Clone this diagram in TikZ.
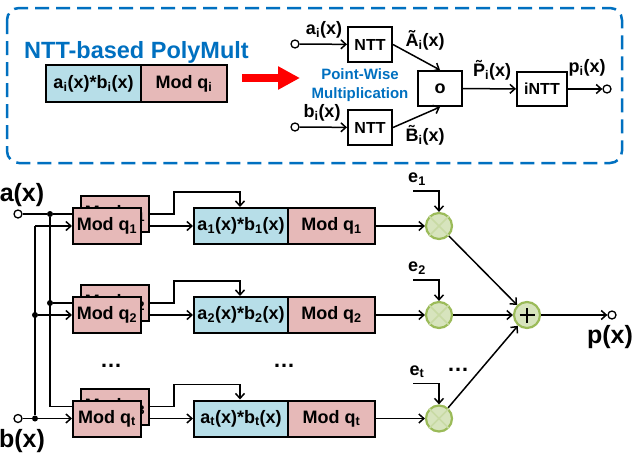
\documentclass[tikz,border=0pt]{standalone}
\usepackage{fontspec}
\setmainfont{Liberation Sans}
\usetikzlibrary{arrows.meta}
\definecolor{bluebox}{RGB}{183,222,232}
\definecolor{pinkbox}{RGB}{230,185,184}
\definecolor{titleblue}{RGB}{0,112,192}
\definecolor{gfill}{RGB}{215,228,189}
\definecolor{gline}{RGB}{155,187,89}
\newcommand\sbs[1]{\textsubscript{#1}}
\newcommand\fs[1]{\fontsize{#1}{#1}\selectfont}
\begin{document}
\begin{tikzpicture}[x=1pt,y=-1pt,
  font=\bfseries\fs{18},
  wire/.style={line width=1.5pt},
  arr/.style={wire,-{Straight Barb[length=5pt,width=9pt]}},
  box/.style={draw,line width=2pt,inner sep=0pt,minimum height=36pt},
  modb/.style={box,fill=pinkbox,minimum width=68pt},
  mulb/.style={box,fill=bluebox,minimum width=94pt},
  redb/.style={box,fill=pinkbox,minimum width=87pt},
  nttbox/.style={box,fill=white,minimum width=44pt,minimum height=35pt,font=\bfseries\fs{16}},
  opend/.style={circle,draw,line width=1.3pt,fill=white,inner sep=0pt,minimum size=8pt},
  dot/.style={circle,fill,inner sep=0pt,minimum size=6pt},
  gcirc/.style={circle,draw=gline,fill=gfill,line width=2.2pt,minimum size=26pt,inner sep=0pt},
  lbl/.style={inner sep=0pt},
  big/.style={lbl,font=\bfseries\fs{25}},
]
\useasboundingbox (0,0) rectangle (634,456);
% ---------- top panel ----------
\draw[titleblue,line width=2.5pt,dash pattern=on 14pt off 7pt,rounded corners=12pt] (7,8) rectangle (622,163);
\node[lbl,titleblue,font=\bfseries\fs{23.5}] (title) at (136.5,52) {NTT-based PolyMult};
\node[mulb,minimum width=95pt,minimum height=37pt] (pm) at (93.5,83.5) {a\sbs{i}(x)*b\sbs{i}(x)};
\node[redb,minimum width=86pt,minimum height=37pt] (pr) at (184,83.5) {Mod q\sbs{i}};
\coordinate (ra1) at (242,78);
\coordinate (ra2) at (300,78);
\draw[red,line width=8pt,-{Triangle[length=22pt,width=22pt]}] (ra1) -- (ra2);

\node[opend] (ina) at (295,44) {};
\node[opend] (inb) at (295,127) {};
\node[nttbox] (ntta) at (370,44.5) {NTT};
\node[nttbox] (nttb) at (370,127.5) {NTT};
\node[lbl] (la) at (324,30) {a\sbs{i}(x)};
\node[lbl] (lb) at (322,113) {b\sbs{i}(x)};
\draw[arr] (ina) -- (ntta);
\draw[arr] (inb) -- (nttb);
\node[nttbox,font=\bfseries\fs{18}] (pw) at (440,88.5) {o};
\draw[arr] (ntta.east) -- (pw.north);
\draw[arr] (nttb.east) -- (pw.south);
\node[lbl] (lA) at (425,40) {\~{A}\sbs{i}(x)};
\node[lbl] (lB) at (425,135) {\~{B}\sbs{i}(x)};
\node[lbl,titleblue,font=\bfseries\fontsize{15}{19}\selectfont,align=center] (pwt) at (360,85.5) {Point-Wise\\Multiplication};
\node[nttbox,minimum width=50pt,minimum height=34pt] (intt) at (542,89) {iNTT};
\draw[arr] (pw) -- (intt);
\node[lbl] (lP) at (492,70) {\~{P}\sbs{i}(x)};
\node[opend] (outp) at (607,89) {};
\draw[arr] (intt) -- (outp);
\node[lbl] (lp) at (587,68) {p\sbs{i}(x)};

% ---------- bottom ----------
\foreach \r/\y/\s/\t in {1/226/1/1, 2/315/2/2, 3/418.5/t/3} {
  \node[modb] (back\r) at (115,\y-12) {Mod q\sbs{\t}};
  \node[mulb] (mul\r) at (241,\y) {a\sbs{\s}(x)*b\sbs{\s}(x)};
  \node[redb] (mod\r) at (331.5,\y) {Mod q\sbs{\s}};
  \node[gcirc] (m\r) at (439,\y) {};
  \draw[gline!55!white,line width=1.6pt] (m\r.north west) -- (m\r.south east) (m\r.north east) -- (m\r.south west);
  \node[lbl] (e\r) at (417,\y-47) {e\sbs{\s}};
  \coordinate (es\r) at (413,\y-35);
  \draw[arr] (es\r) -| (m\r.north);
  \draw[arr] (back\r.east) -| ++(24,-22) -| ([xshift=-1pt]mul\r.north);
  \draw[arr] (back\r.east |- mul\r.west) -- (mul\r.west);
  \draw[arr] (mod\r.east) -- (m\r.west);
}
\node[opend] (ain) at (18,214) {};
\node[dot] (da1) at (50,214) {};
\node[dot] (da2) at (50,303) {};
\coordinate (da3) at (50,406.5);
\node[opend] (bin) at (18,418.5) {};
\node[dot] (db3) at (35,418.5) {};
\node[dot] (db2) at (35,315) {};
\coordinate (db1) at (35,226);
\draw[wire] (ain) -- (da1) -- (back1.west);
\draw[wire] (da1) -- (da3) -- (back3.west);
\draw[wire] (da2) -- (back2.west);
\draw[wire] (bin) -- (db3) -- (db1);
\foreach \r/\y in {1/226, 2/315, 3/418.5} {
  \node[modb] (front\r) at (107,\y) {Mod q\sbs{\ifnum\r=3 t\else\r\fi}};
}
\draw[arr] (db1) -- (front1.west);
\draw[arr] (db2) -- (front2.west);
\draw[arr] (db3) -- (front3.west);

\node[gcirc] (sum) at (527,315) {};
\draw[line width=2.6pt] ([xshift=-7.5pt]sum.center) -- ([xshift=7.5pt]sum.center)
  ([yshift=-7.5pt]sum.center) -- ([yshift=7.5pt]sum.center);
\draw[arr] (m1) -- (sum);
\draw[arr] (m2) -- (sum);
\draw[arr] (m3) -- (sum);
\node[opend] (pout) at (612,315) {};
\draw[arr] (sum) -- (pout);

\node[big] (lax) at (22,195) {a(x)};
\node[big] (lbx) at (22,441) {b(x)};
\node[big] (lpx) at (610,337) {p(x)};
\node[lbl,font=\bfseries\fs{22}] (d1) at (111,366) {…};
\node[lbl,font=\bfseries\fs{22}] (d2) at (284,366) {…};
\node[lbl,font=\bfseries\fs{22}] (d3) at (458,370) {…};
\end{tikzpicture}
\end{document}
